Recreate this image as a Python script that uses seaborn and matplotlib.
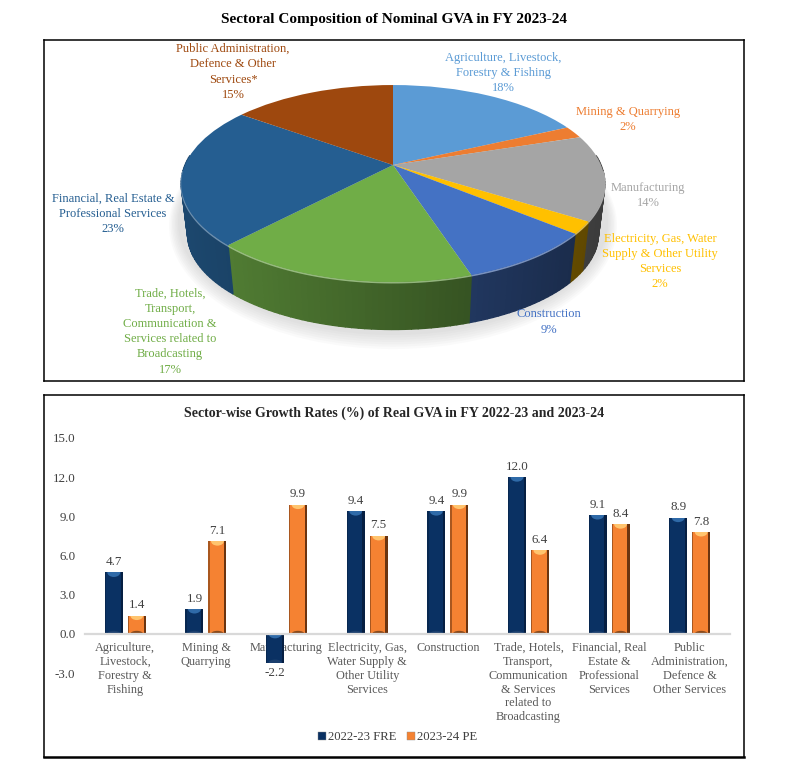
import numpy as np
import pandas as pd
import matplotlib
matplotlib.use("Agg")
import matplotlib.pyplot as plt
import matplotlib.transforms as mtransforms
from matplotlib.colors import to_rgb
from matplotlib.lines import Line2D
from matplotlib.patches import Ellipse, Rectangle
import seaborn as sns

# ---------- data ----------
pie_labels = ["Agriculture, Livestock,\nForestry & Fishing", "Mining & Quarrying", "Manufacturing",
              "Electricity, Gas, Water\nSupply & Other Utility\nServices", "Construction",
              "Trade, Hotels,\nTransport,\nCommunication &\nServices related to\nBroadcasting",
              "Financial, Real Estate &\nProfessional Services",
              "Public Administration,\nDefence & Other\nServices*"]
pie_values = [18, 2, 14, 2, 9, 17, 23, 15]
pie_colors = ["#5b9bd5", "#ed7d31", "#a5a5a5", "#ffc000", "#4472c4", "#70ad47", "#255e91", "#9e480e"]
pie_label_x = [503, 628, 648, 660, 549, 170, 113, 233]
pie_label_y = [73, 119.5, 195.5, 261.5, 322, 331.5, 214, 72]

bar_categories = ["Agriculture,\nLivestock,\nForestry &\nFishing", "Mining &\nQuarrying", "Manufacturing",
                  "Electricity, Gas,\nWater Supply &\nOther Utility\nServices", "Construction",
                  "Trade, Hotels,\nTransport,\nCommunication\n& Services\nrelated to\nBroadcasting",
                  "Financial, Real\nEstate &\nProfessional\nServices",
                  "Public\nAdministration,\nDefence &\nOther Services"]
fre_2022_23 = [4.7, 1.9, -2.2, 9.4, 9.4, 12.0, 9.1, 8.9]
pe_2023_24 = [1.4, 7.1, 9.9, 7.5, 9.9, 6.4, 8.4, 7.8]
series_names = ["2022-23 FRE", "2023-24 PE"]
y_ticks = [-3, 0, 3, 6, 9, 12, 15]

# ---------- setup ----------
W, H_FIG = 792, 773
sns.set_theme(style="white")
SERIF = ["Liberation Serif", "DejaVu Serif"]
plt.rcParams["font.family"] = SERIF
fig = plt.figure(figsize=(W / 100, H_FIG / 100), dpi=100, facecolor="white")


def rect(x0, y0, x1, y1):
    return [x0 / W, 1 - y1 / H_FIG, (x1 - x0) / W, (y1 - y0) / H_FIG]


CX, CY, RX, RY, K = 393.0, 165.0, 208.0, 95.0, 0.188
DEPTH, SHRINK = 51.0, 0.97


class Tilt(mtransforms.Transform):
    """Perspective view of the unit pie, in panel pixel coordinates."""
    input_dims = output_dims = 2
    is_separable = False
    has_inverse = False

    def transform_non_affine(self, values):
        values = np.asarray(values, dtype=float)
        u, v = values[:, 0], values[:, 1]
        w = 1 + K * v
        return np.column_stack([CX + RX * u / w, CY - RY * v / w])


tilt = Tilt()

# ---------- panel 1: pie ----------
ax1 = fig.add_axes(rect(44, 40, 744, 381))
wedges, _ = ax1.pie(pie_values, colors=pie_colors, startangle=90, counterclock=False,
                    frame=True, wedgeprops={"linewidth": 0, "zorder": 5})
for wedge in wedges:
    wedge.set_transform(tilt + ax1.transData)
ax1.set_aspect("auto")
ax1.set_xlim(44, 744)
ax1.set_ylim(381, 40)
ax1.set_xticks([])
ax1.set_yticks([])
for s in ax1.spines.values():
    s.set_visible(True)
    s.set_color("black")
    s.set_linewidth(1.1)

# soft shadow under the pie
for i in range(7):
    ax1.add_patch(Ellipse((CX, 222 + i * 0.6), 430 + i * 3, 226 + i * 3.5, facecolor="#808080",
                          alpha=0.035, edgecolor="none", zorder=0.5))

# side wall
edges = np.cumsum([0] + pie_values) / sum(pie_values) * 2 * np.pi
for a0, a1, col in zip(edges[:-1], edges[1:], pie_colors):
    base = np.array(to_rgb(col))
    n = max(2, int((a1 - a0) / np.radians(1.5)))
    th = np.linspace(a0, a1, n + 1)
    top = tilt.transform(np.column_stack([np.sin(th), np.cos(th)]))
    bot = np.column_stack([CX + SHRINK * (top[:, 0] - CX), CY + DEPTH + SHRINK * (top[:, 1] - CY)])
    for i in range(n):
        if np.cos(th[i]) > 0.1 and np.cos(th[i + 1]) > 0.1:
            continue
        frac = (top[i, 0] - (CX - 212)) / 424
        shade = 0.76 - 0.40 * frac
        ax1.fill([top[i, 0], top[i + 1, 0], bot[i + 1, 0], bot[i, 0]],
                 [top[i, 1], top[i + 1, 1], bot[i + 1, 1], bot[i, 1]],
                 facecolor=base * shade, edgecolor=base * shade, linewidth=1.0, zorder=2)
    front = np.cos(th) < -0.05
    if front.any():
        ax1.plot(top[front, 0], top[front, 1] + 0.6, color=1 - (1 - base) * 0.55, lw=1.3,
                 alpha=0.75, zorder=4, solid_capstyle="butt")

for txt, val, col, x, y in zip(pie_labels, pie_values, pie_colors, pie_label_x, pie_label_y):
    ax1.text(x, y, f"{txt}\n{val}%", color=col, ha="center", va="center", fontsize=9.0,
             linespacing=1.36, zorder=6)

fig.text(394 / W, 1 - 19 / H_FIG, "Sectoral Composition of Nominal GVA in FY 2023-24",
         ha="center", va="center", fontsize=11, color="black", fontweight="bold")

# ---------- panel 2: bars ----------
frame2 = fig.add_axes(rect(44, 395, 744, 757))
frame2.set_xticks([])
frame2.set_yticks([])
for s in frame2.spines.values():
    s.set_visible(True)
    s.set_color("black")
    s.set_linewidth(1.1)
frame2.spines["bottom"].set_linewidth(1.8)

ax2 = fig.add_axes(rect(85, 438, 730, 673))
ax2.patch.set_alpha(0)
df = pd.DataFrame({
    "sector": bar_categories * 2,
    "growth": fre_2022_23 + pe_2023_24,
    "year": [series_names[0]] * 8 + [series_names[1]] * 8,
})
BAR_COLORS = ["#0a3163", "#f58232"]
sns.barplot(data=df, x="sector", y="growth", hue="year", palette=BAR_COLORS, width=0.57, gap=0.22,
            ax=ax2, legend=False, linewidth=0, saturation=1)
ax2.set_xlim(-0.5, 7.5)
ax2.set_ylim(-3, 15)
ax2.set_xlabel("")
ax2.set_ylabel("")
ax2.set_yticks(y_ticks)
ax2.set_yticklabels([f"{t:.1f}" for t in y_ticks])
ax2.tick_params(axis="y", length=0, pad=7, labelsize=9.4, labelcolor="#404040")
ax2.tick_params(axis="x", length=0, pad=6, labelsize=8.8, labelcolor="#595959")
for lab in ax2.get_xticklabels():
    lab.set_linespacing(1.06)
for name in ("left", "right", "top"):
    ax2.spines[name].set_visible(False)
ax2.spines["bottom"].set_position(("data", 0))
ax2.spines["bottom"].set_color("#d9d9d9")
ax2.spines["bottom"].set_linewidth(1.6)

# bevel detail on each bar and value labels
px_x = (730 - 85) / 8
px_y = (673 - 438) / 18
styles = [("#2f6aa8", "#1b3f6e", "#061f42"), ("#ffc46e", "#8a4a1b", "#6b3410")]
for cont, (hi, lo, side) in zip(ax2.containers, styles):
    for bar in cont:
        x, w, h = bar.get_x(), bar.get_width(), bar.get_height()
        y_hi, y_lo = max(h, 0), min(h, 0)
        cx = x + w / 2
        items = [
            Ellipse((cx, y_hi), w * 0.72, 9 / px_y, facecolor=hi, edgecolor="none", zorder=1.2),
            Ellipse((cx, y_lo), w * 0.72, 6 / px_y, facecolor=lo, edgecolor="none", zorder=1.2),
            Rectangle((x + w - 2.2 / px_x, y_lo), 2.2 / px_x, y_hi - y_lo, facecolor=side, edgecolor="none", zorder=1.25),
            Rectangle((x, y_lo), 1.2 / px_x, y_hi - y_lo, facecolor=side, edgecolor="none", alpha=0.55, zorder=1.25),
        ]
        for it in items:
            ax2.add_patch(it)
            it.set_clip_path(bar)
    ax2.bar_label(cont, fmt="%.1f", padding=3.2, fontsize=9.4, color="#404040")

fig.text(394 / W, 1 - 413 / H_FIG, "Sector-wise Growth Rates (%) of Real GVA in FY 2022-23 and 2023-24",
         ha="center", va="center", fontsize=10.0, color="#262626", fontweight="bold")

handles = [Line2D([], [], linestyle="none", marker="s", markersize=5.5, markerfacecolor=c,
                  markeredgecolor="#8c8c8c", markeredgewidth=0.3) for c in BAR_COLORS]
fig.legend(handles, series_names, loc="center", bbox_to_anchor=(397 / W, 1 - 737 / H_FIG), ncol=2,
           frameon=False, fontsize=9.2, labelcolor="#404040", handletextpad=0.0, columnspacing=0.7,
           handlelength=0.9)

fig.savefig("out.png", dpi=100, facecolor="white")
